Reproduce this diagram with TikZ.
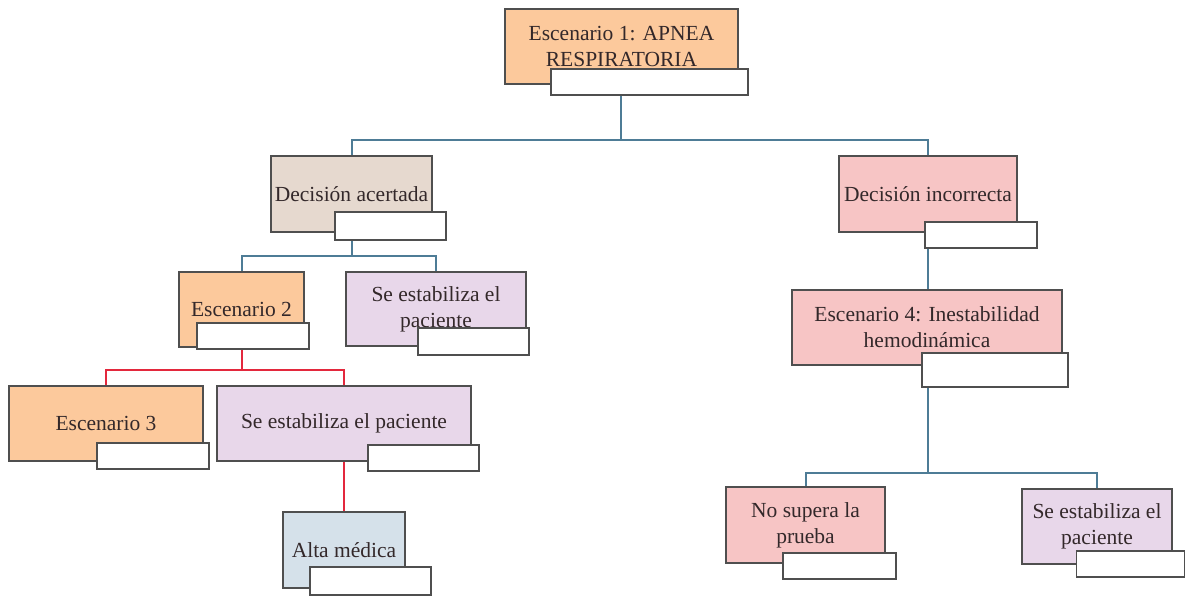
\documentclass[tikz,border=0pt]{standalone}
\usepackage{fontspec}
\setmainfont{Liberation Serif}
\definecolor{boxline}{HTML}{4F4F4F}
\definecolor{txt}{HTML}{33282A}
\definecolor{linkblue}{HTML}{4E7C96}
\definecolor{linkred}{HTML}{E3283D}
\definecolor{corange}{HTML}{FCC99C}
\definecolor{cbeige}{HTML}{E6D9CF}
\definecolor{cpink}{HTML}{F7C5C5}
\definecolor{clav}{HTML}{E8D7EA}
\definecolor{cblue}{HTML}{D5E1EA}
\pgfdeclarelayer{background}
\pgfsetlayers{background,main}
\begin{document}
\begin{tikzpicture}[x=1pt,y=-1pt,
  box/.style={draw=boxline,line width=1.6pt,text=txt,font=\fontsize{21.5}{26}\selectfont,align=center,inner sep=0pt,anchor=center},
  lbl/.style={draw=boxline,fill=white,line width=1.4pt,inner sep=0pt,anchor=center},
  bl/.style={draw=linkblue,line width=2pt},
  rd/.style={draw=linkred,line width=2pt}]
\path[use as bounding box] (0,0) rectangle (1186,596);

% main boxes
\node[box,fill=corange,minimum width=233pt,minimum height=75pt] (e1) at (621.5,46.5) {Escenario 1: APNEA\\RESPIRATORIA};
\node[lbl,minimum width=197pt,minimum height=26pt] (l1) at (649.5,82) {};

\node[box,fill=cbeige,minimum width=161pt,minimum height=76pt] (da) at (351.5,194) {Decisión acertada};
\node[lbl,minimum width=111pt,minimum height=28pt] (lda) at (390.5,226) {};

\node[box,fill=cpink,minimum width=178pt,minimum height=76pt] (di) at (928,194) {Decisión incorrecta};
\node[lbl,minimum width=112pt,minimum height=26pt] (ldi) at (981,235) {};

\node[box,fill=corange,minimum width=125pt,minimum height=75pt] (e2) at (241.5,309.5) {Escenario 2};
\node[lbl,minimum width=112pt,minimum height=26pt] (le2) at (253,336) {};

\node[box,fill=clav,minimum width=180pt,minimum height=74pt] (sa) at (436,309) {Se estabiliza el\\paciente};
\node[lbl,minimum width=111pt,minimum height=27pt] (lsa) at (473.5,341.5) {};

\node[box,fill=cpink,minimum width=270pt,minimum height=75pt] (e4) at (927,327.5) {Escenario 4: Inestabilidad\\hemodinámica};
\node[lbl,minimum width=146pt,minimum height=34pt] (le4) at (995,370) {};

\node[box,fill=corange,minimum width=194pt,minimum height=75pt] (e3) at (106,423.5) {Escenario 3};
\node[lbl,minimum width=112pt,minimum height=26pt] (le3) at (153,456) {};

\node[box,fill=clav,minimum width=254pt,minimum height=75pt] (sb) at (344,423.5) {Se estabiliza el paciente};
\node[lbl,minimum width=111pt,minimum height=26pt] (lsb) at (423.5,458) {};

\node[box,fill=cblue,minimum width=122pt,minimum height=76pt] (am) at (344,550) {Alta médica};
\node[lbl,minimum width=121pt,minimum height=28pt] (lam) at (370.5,581) {};

\node[box,fill=cpink,minimum width=159pt,minimum height=76pt] (ns) at (805.5,525) {No supera la\\prueba};
\node[lbl,minimum width=113pt,minimum height=26pt] (lns) at (839.5,566) {};

\node[box,fill=clav,minimum width=150pt,minimum height=75pt] (sc) at (1097,526.5) {Se estabiliza el\\paciente};
\node[lbl,minimum width=108pt,minimum height=26pt] (lsc) at (1130.5,564) {};

% connectors
\begin{pgfonlayer}{background}
\coordinate (j1) at (621,140);
\draw[bl] (l1.south -| j1) -- (j1);
\draw[bl] (da.north) -- (da.north |- j1) -- (di.north |- j1) -- (di.north);
\coordinate (j2) at (351.5,256);
\draw[bl] (da.south) -- (j2);
\draw[bl] (e2.north) -- (e2.north |- j2) -- (sa.north |- j2) -- (sa.north);
\coordinate (j3) at (241.5,370);
\draw[rd] (e2.south) -- (j3);
\draw[rd] (e3.north) -- (e3.north |- j3) -- (sb.north |- j3) -- (sb.north);
\draw[rd] (sb.south) -- (am.north);
\draw[bl] (di.south) -- (di.south |- e4.north);
\coordinate (j4) at (928,473);
\draw[bl] (e4.south -| j4) -- (j4);
\draw[bl] (ns.north) -- (ns.north |- j4) -- (sc.north |- j4) -- (sc.north);
\end{pgfonlayer}
\end{tikzpicture}
\end{document}
